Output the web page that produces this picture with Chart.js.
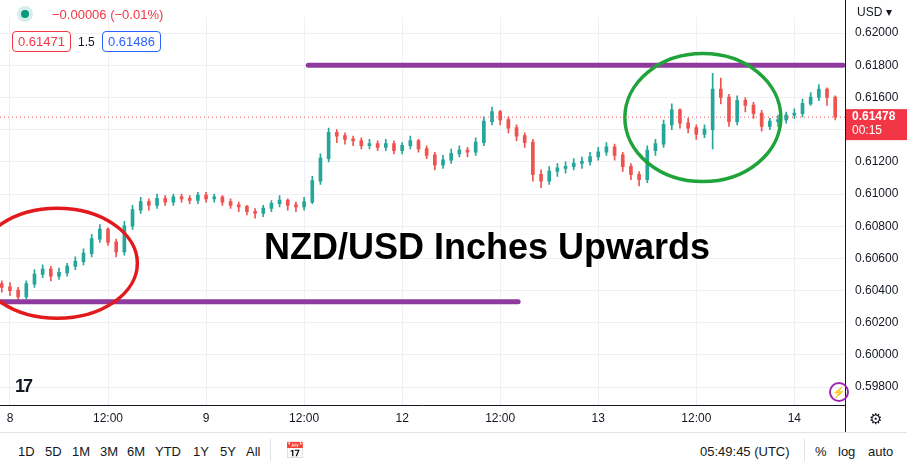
<!DOCTYPE html>
<html>
<head>
<meta charset="utf-8">
<script src="https://cdn.jsdelivr.net/npm/chart.js@4"></script>
<style>
  body { margin: 0; width: 907px; height: 468px; overflow: hidden; background: #fff; font-family: "Liberation Sans", Arial, sans-serif; position: relative; }
  #wrap { position: absolute; left: 0; top: 0; width: 907px; height: 432px; }
  .abs { position: absolute; white-space: nowrap; }
  .box { position: absolute; font-size: 13px; padding: 2px 5px; border-radius: 4px; background: #fff; }
  #bar { position: absolute; left: 0; top: 432px; width: 907px; height: 36px; border-top: 1px solid #e0e3eb; font-size: 13px; color: #131722; }
  #bar span { position: absolute; top: 11px; }
</style>
</head>
<body>
<div id="wrap"><canvas id="c" width="907" height="432"></canvas></div>

<div class="abs" style="left:17px;top:6px;width:16px;height:16px;border-radius:50%;background:#d7efe9"></div>
<div class="abs" style="left:21px;top:10px;width:8px;height:8px;border-radius:50%;background:#089981"></div>
<div class="abs" style="left:52px;top:7px;font-size:13px;color:#f23645">−0.00006 (−0.01%)</div>
<div class="box" style="left:12px;top:31px;border:1px solid #f23645;color:#f23645">0.61471</div>
<div class="abs" style="left:78px;top:35px;font-size:12px;color:#131722">1.5</div>
<div class="box" style="left:102px;top:31px;border:1px solid #2962ff;color:#2962ff">0.61486</div>
<div class="abs" style="left:857px;top:5px;font-size:12px;color:#131722">USD ▾</div>
<div class="abs" style="left:15px;top:376px;font-size:18px;font-weight:bold;color:#131722;letter-spacing:-2px">17</div>
<div class="abs" style="left:829px;top:382px;width:16px;height:16px;border:2px solid #9c27b0;border-radius:50%;color:#9c27b0;font-size:11px;text-align:center;line-height:16px">⚡</div>
<div class="abs" style="left:869px;top:410px;font-size:15px;color:#131722">⚙</div>

<div id="bar">
  <span style="left:18px">1D</span><span style="left:45px">5D</span><span style="left:72px">1M</span>
  <span style="left:100px">3M</span><span style="left:127px">6M</span><span style="left:155px">YTD</span>
  <span style="left:193px">1Y</span><span style="left:220px">5Y</span><span style="left:246px">All</span>
  <span style="left:270px;top:6px;width:1px;height:22px;background:#e0e3eb"></span>
  <span style="left:285px;top:8px;font-size:16px">📅</span>
  <span style="left:700px">05:49:45 (UTC)</span>
  <span style="left:804px;top:6px;width:1px;height:22px;background:#e0e3eb"></span>
  <span style="left:815px">%</span><span style="left:838px">log</span><span style="left:868px">auto</span>
</div>

<script>
// hourly candles, hour 0 = day 8 00:00 (weekend removed)
const hours = [];
for (let h = -1; h <= 101; h++) hours.push(h);
const closes = [0.6042,0.6040,0.6036,0.6044,0.6050,0.6053,0.6049,0.6051,0.6055,0.6058,0.6063,0.6072,0.6078,0.6070,0.6064,0.6080,0.6090,0.6095,0.6093,0.6097,0.6095,0.6098,0.6097,0.6096,0.6099,0.6097,0.6098,0.6095,0.6093,0.6092,0.6089,0.6088,0.6091,0.6094,0.6096,0.6093,0.6092,0.6095,0.6108,0.6122,0.6138,0.6136,0.6134,0.6133,0.6130,0.6131,0.6129,0.6131,0.6127,0.6130,0.6133,0.6128,0.6124,0.6118,0.6121,0.6125,0.6127,0.6126,0.6132,0.6145,0.6151,0.6146,0.6141,0.6136,0.6132,0.6112,0.6108,0.6114,0.6116,0.6117,0.6119,0.6120,0.6123,0.6126,0.6129,0.6124,0.6117,0.6112,0.6109,0.6127,0.6131,0.6143,0.6152,0.6144,0.6141,0.6137,0.6140,0.6165,0.6160,0.6145,0.6158,0.6155,0.6150,0.6142,0.6145,0.6146,0.6149,0.6150,0.6156,0.6160,0.6165,0.6160,0.6148];
const highs = [0.6046,0.6045,0.6042,0.6046,0.6053,0.6056,0.6055,0.6054,0.6057,0.6061,0.6066,0.6075,0.6081,0.6079,0.6072,0.6083,0.6093,0.6098,0.6097,0.6100,0.6099,0.6100,0.6100,0.6099,0.6101,0.6101,0.6100,0.6099,0.6097,0.6095,0.6093,0.6091,0.6093,0.6096,0.6099,0.6097,0.6095,0.6098,0.6111,0.6125,0.6141,0.6140,0.6138,0.6136,0.6135,0.6134,0.6133,0.6134,0.6133,0.6132,0.6136,0.6134,0.6130,0.6126,0.6124,0.6128,0.6130,0.6129,0.6135,0.6148,0.6154,0.6152,0.6148,0.6143,0.6138,0.6134,0.6115,0.6117,0.6119,0.6120,0.6122,0.6123,0.6126,0.6129,0.6132,0.6131,0.6126,0.6119,0.6114,0.6130,0.6134,0.6146,0.6156,0.6153,0.6147,0.6143,0.6143,0.6175,0.6172,0.6162,0.6161,0.6160,0.6157,0.6152,0.6147,0.6149,0.6151,0.6153,0.6159,0.6163,0.6168,0.6166,0.6161];
const lows = [0.6039,0.6037,0.6033,0.6035,0.6042,0.6048,0.6046,0.6047,0.6049,0.6053,0.6056,0.6061,0.6070,0.6068,0.6061,0.6062,0.6078,0.6088,0.6090,0.6091,0.6093,0.6093,0.6095,0.6094,0.6094,0.6095,0.6095,0.6093,0.6091,0.6089,0.6087,0.6085,0.6086,0.6089,0.6092,0.6090,0.6089,0.6090,0.6094,0.6106,0.6120,0.6132,0.6131,0.6130,0.6128,0.6128,0.6127,0.6127,0.6125,0.6125,0.6128,0.6126,0.6122,0.6115,0.6116,0.6119,0.6123,0.6123,0.6124,0.6130,0.6143,0.6143,0.6138,0.6133,0.6129,0.6108,0.6104,0.6106,0.6111,0.6113,0.6115,0.6116,0.6118,0.6121,0.6124,0.6121,0.6114,0.6109,0.6105,0.6107,0.6124,0.6129,0.6140,0.6141,0.6138,0.6134,0.6135,0.6128,0.6156,0.6142,0.6143,0.6151,0.6147,0.6139,0.6140,0.6142,0.6144,0.6147,0.6148,0.6155,0.6158,0.6155,0.6146];
const firstOpen = 0.6044;
const opens = closes.map((c, i) => i === 0 ? firstOpen : closes[i - 1]);
const xTicks = [0, 12, 24, 36, 48, 60, 72, 84, 96];
const xTickLabels = ['8', '12:00', '9', '12:00', '12', '12:00', '13', '12:00', '14'];
const yTicks = [0.598, 0.600, 0.602, 0.604, 0.606, 0.608, 0.610, 0.612, 0.614, 0.616, 0.618, 0.620];
const lastPrice = 0.61478;
const resistance = 0.6180, support = 0.60331;

const UP = '#26a69a', DOWN = '#ef5350';
const colors = closes.map((c, i) => c >= opens[i] ? UP : DOWN);

const overlay = {
  id: 'overlay',
  beforeDatasetsDraw(chart) {
    const { ctx, scales: { x, y }, chartArea: a } = chart;
    const py = y.getPixelForValue(lastPrice);
    ctx.save();
    ctx.strokeStyle = '#ef5350'; ctx.lineWidth = 1; ctx.setLineDash([1, 3]);
    ctx.beginPath(); ctx.moveTo(a.left, py); ctx.lineTo(a.right, py); ctx.stroke();
    ctx.restore();
  },
  afterDraw(chart) {
    const { ctx, scales: { x, y }, chartArea: a } = chart;
    ctx.save();
    // support / resistance
    ctx.strokeStyle = '#8e3a9e'; ctx.lineWidth = 5; ctx.lineCap = 'round';
    let r = y.getPixelForValue(resistance);
    ctx.beginPath(); ctx.moveTo(x.getPixelForValue(36.5), r); ctx.lineTo(a.right - 2, r); ctx.stroke();
    let s = y.getPixelForValue(support);
    ctx.beginPath(); ctx.moveTo(a.left - 2, s); ctx.lineTo(x.getPixelForValue(62.2), s); ctx.stroke();
    // ellipses
    ctx.lineWidth = 3.5;
    ctx.strokeStyle = '#e3191c';
    ctx.beginPath(); ctx.ellipse(x.getPixelForValue(5.8), y.getPixelForValue(0.6057), 80, 55, 0, 0, Math.PI * 2); ctx.stroke();
    ctx.strokeStyle = '#1fa33a';
    ctx.beginPath(); ctx.ellipse(x.getPixelForValue(84.8), y.getPixelForValue(0.61475), 78, 64, 0, 0, Math.PI * 2); ctx.stroke();
    // title
    ctx.fillStyle = '#000'; ctx.font = 'bold 36px "Liberation Sans", Arial'; ctx.textAlign = 'center'; ctx.textBaseline = 'middle';
    ctx.fillText('NZD/USD Inches Upwards', 487, 249);
    // axis borders
    ctx.strokeStyle = '#131722'; ctx.lineWidth = 1; ctx.lineCap = 'butt';
    ctx.beginPath(); ctx.moveTo(a.right + 0.5, 0); ctx.lineTo(a.right + 0.5, 432); ctx.stroke();
    ctx.beginPath(); ctx.moveTo(0, a.bottom + 0.5); ctx.lineTo(a.right, a.bottom + 0.5); ctx.stroke();
    // last price tag
    const py = y.getPixelForValue(lastPrice);
    ctx.fillStyle = '#f23645';
    ctx.fillRect(a.right + 1, py - 8, 62, 31);
    ctx.fillStyle = '#fff'; ctx.font = 'bold 12px "Liberation Sans", Arial'; ctx.textAlign = 'left';
    ctx.fillText(lastPrice.toFixed(5), a.right + 7, py);
    ctx.font = '12px "Liberation Sans", Arial';
    ctx.fillText('00:15', a.right + 7, py + 14);
    ctx.restore();
  }
};

new Chart(document.getElementById('c'), {
  type: 'bar',
  data: {
    datasets: [
      {
        data: hours.map((h, i) => ({ x: h, y: [lows[i], highs[i]] })),
        backgroundColor: colors, barThickness: 1, grouped: false, order: 2
      },
      {
        data: hours.map((h, i) => ({ x: h, y: [Math.min(opens[i], closes[i]), Math.max(opens[i], closes[i]) + 0.00003] })),
        backgroundColor: colors, barThickness: 3, grouped: false, order: 1
      }
    ]
  },
  options: {
    responsive: false, animation: false,
    layout: { padding: 0 },
    plugins: { legend: { display: false }, tooltip: { enabled: false } },
    scales: {
      x: {
        type: 'linear', min: -1.22, max: 102.2, offset: false,
        afterBuildTicks: sc => { sc.ticks = xTicks.map(v => ({ value: v })); },
        afterFit: sc => { sc.height = 27; },
        ticks: { callback: v => xTickLabels[xTicks.indexOf(v)], color: '#131722', font: { size: 12, family: 'Liberation Sans' }, maxRotation: 0, autoSkip: false, padding: 6 },
        grid: { color: '#eef0f4', drawTicks: false, offset: false },
        border: { display: false }
      },
      y: {
        position: 'right', min: 0.59689, max: 0.62099,
        afterBuildTicks: sc => { sc.ticks = yTicks.map(v => ({ value: v })); },
        afterFit: sc => { sc.width = 62; },
        ticks: { callback: v => v.toFixed(5), color: '#131722', font: { size: 12, family: 'Liberation Sans' }, padding: 10 },
        grid: { color: '#eef0f4', drawTicks: false },
        border: { display: false }
      }
    }
  },
  plugins: [overlay]
});
</script>
</body>
</html>
